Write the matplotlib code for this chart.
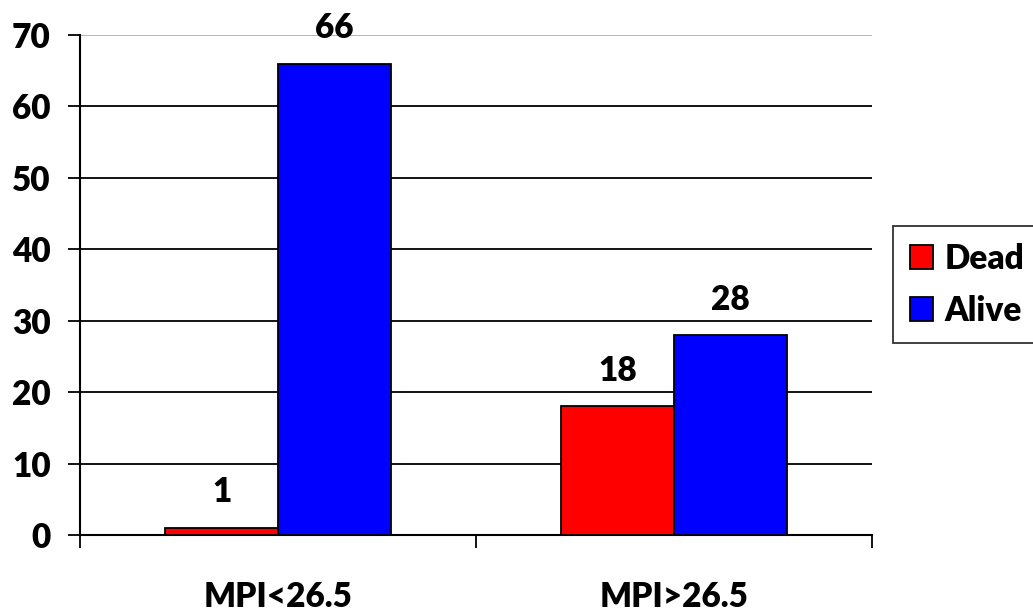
import numpy as np
import matplotlib.pyplot as plt

groups = ['MPI<26.5', 'MPI>26.5']
dead = [1, 18]
alive = [66, 28]
y_ticks = [0, 10, 20, 30, 40, 50, 60, 70]

plt.rcParams['font.family'] = ['Lato', 'DejaVu Sans']
FW = 'heavy'
FS = 24

fig = plt.figure(figsize=(10.33, 6.12), dpi=100)
ax = fig.add_axes([80 / 1033, 77 / 612, 792 / 1033, 500 / 612])

centers = np.arange(len(groups)) + 0.5
w = 0.285
b1 = ax.bar(centers - w / 2, dead, w, color='#ff0000', edgecolor='black', linewidth=1.3, label='Dead', zorder=3)
b2 = ax.bar(centers + w / 2, alive, w, color='#0000ff', edgecolor='black', linewidth=1.3, label='Alive', zorder=3)

for bars, vals in ((b1, dead), (b2, alive)):
    for r, v in zip(bars, vals):
        ax.annotate(str(v), (r.get_x() + r.get_width() / 2, v), xytext=(0, 14),
                    textcoords='offset points', ha='center', va='bottom',
                    fontsize=FS, fontweight=FW)

ax.set_xlim(0, 2)
ax.set_ylim(0, 70)
ax.set_yticks(y_ticks)
ax.set_yticklabels([str(t) for t in y_ticks], fontsize=FS, fontweight=FW)
ax.set_xticks(centers)
ax.set_xticklabels(groups, fontsize=FS, fontweight=FW)
ax.set_xticks([0, 1, 2], minor=True)
ax.tick_params(axis='x', which='major', length=0, pad=33)
ax.tick_params(axis='x', which='minor', length=9, width=1.3, direction='out')
ax.tick_params(axis='y', length=9, width=1.3, direction='out', pad=12)

for t in y_ticks[1:-1]:
    ax.axhline(t, color='black', linewidth=1.3, zorder=1)
ax.axhline(70, color='#b0b0b0', linewidth=1.3, zorder=1)

for s in ('top', 'right'):
    ax.spines[s].set_visible(False)
ax.spines['left'].set_linewidth(1.5)
ax.spines['bottom'].set_linewidth(1.5)

leg = fig.legend(loc='upper left', bbox_to_anchor=(893 / 1033, 1 - 226 / 612),
                 prop={'size': FS, 'weight': FW}, frameon=True, fancybox=False,
                 handlelength=0.7, handleheight=0.7, handletextpad=0.35,
                 borderpad=0.5, labelspacing=0.6, borderaxespad=0)
leg.get_frame().set_edgecolor('black')
leg.get_frame().set_linewidth(1.3)

fig.savefig('out.png', dpi=100)
